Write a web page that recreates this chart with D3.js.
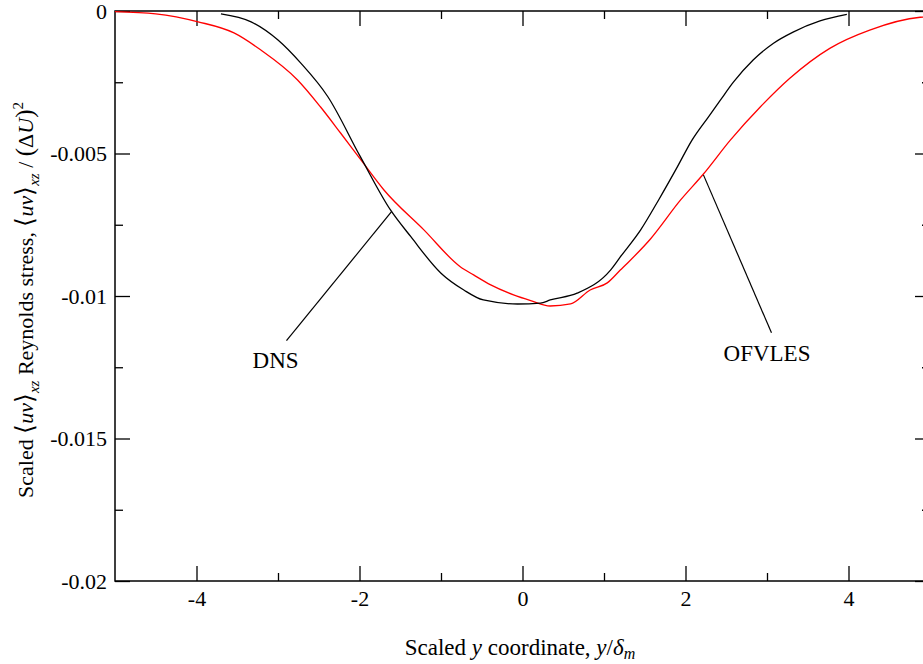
<!DOCTYPE html>
<html><head><meta charset="utf-8">
<script src="https://cdn.jsdelivr.net/npm/d3@7"></script>
<style>body{margin:0;background:#fff}svg{display:block}</style>
</head><body>
<svg id="c" width="923" height="664"></svg>
<script>
const dnsX = [-3.7,-3.33,-3.0,-2.72,-2.39,-1.99,-1.62,-1.37,-1.0,-0.72,-0.48,-0.06,0.22,0.34,0.67,1.08,1.20,1.45,1.67,1.90,2.08,2.28,2.43,2.59,2.83,3.08,3.32,3.65,3.98];
const dnsV = [-0.0001,-0.00038,-0.00102,-0.00183,-0.0030,-0.00511,-0.00698,-0.00792,-0.0092,-0.00979,-0.01014,-0.01028,-0.01025,-0.01014,-0.0099,-0.00909,-0.00863,-0.00768,-0.00663,-0.00547,-0.00453,-0.00372,-0.00312,-0.00249,-0.00172,-0.00113,-0.00074,-0.00035,-0.00012];
const lesX = [-5,-4.5,-3.98,-3.54,-3.21,-2.76,-2.48,-2.23,-1.95,-1.70,-1.21,-0.76,-0.60,-0.39,-0.11,0.10,0.34,0.59,0.83,1.04,1.20,1.29,1.57,1.94,2.22,2.55,2.92,3.28,3.77,4.26,4.88,5];
const lesV = [-0.00002,-0.0001,-0.00038,-0.00077,-0.00137,-0.00242,-0.00336,-0.00429,-0.00535,-0.00628,-0.00768,-0.00898,-0.00926,-0.00961,-0.00996,-0.01016,-0.01035,-0.01028,-0.00979,-0.00954,-0.00909,-0.00884,-0.00800,-0.00663,-0.00572,-0.00453,-0.00336,-0.00236,-0.00131,-0.00067,-0.00022,-0.0002];
const xTicks = [-4,-2,0,2,4];
const xMinor = [-3,-1,1,3];
const yTicks = [0,-0.005,-0.01,-0.015,-0.02];
const yTickLabels = ["0","-0.005","-0.01","-0.015","-0.02"];
const yMinor = [-0.0025,-0.0075,-0.0125,-0.0175];
const labels = [
  {name:"DNS", from:[-1.607,-0.00704], to:[-2.896,-0.01157], at:[-3.03,-0.01253]},
  {name:"OFVLES", from:[2.22,-0.00575], to:[3.055,-0.01129], at:[3.0,-0.01227]}
];

const FONT = "'Liberation Serif','Times New Roman',serif";
const svg = d3.select("#c").style("font-family", FONT);
const L=115, R=930, T=11, B=581;
const x = d3.scaleLinear().domain([-5,5]).range([L,R]);
const y = d3.scaleLinear().domain([0,-0.02]).range([T,B]);
const g = svg.append("g");

const axStyle = sel => {
  sel.attr("font-family", null).attr("font-size", null);
  sel.select(".domain").remove();
  sel.selectAll("line").attr("stroke","#000").attr("stroke-width",1.3);
  sel.selectAll("text").style("font-family", FONT).attr("font-size",22).attr("fill","#000");
};
// bottom axis (ticks inward)
g.append("g").attr("transform",`translate(0,${B})`).call(d3.axisBottom(x).tickValues(xTicks).tickSize(-15).tickPadding(9).tickFormat(d=>d<0?"-"+Math.abs(d):String(d)))
 .call(axStyle);
g.append("g").attr("transform",`translate(0,${B})`).call(d3.axisBottom(x).tickValues(xMinor).tickSize(-8).tickFormat(""))
 .call(axStyle);
// top axis
g.append("g").attr("transform",`translate(0,${T})`).call(d3.axisTop(x).tickValues(xTicks).tickSize(-15).tickFormat("")).call(axStyle);
g.append("g").attr("transform",`translate(0,${T})`).call(d3.axisTop(x).tickValues(xMinor).tickSize(-8).tickFormat("")).call(axStyle);
// left axis
g.append("g").attr("transform",`translate(${L},0)`).call(d3.axisLeft(y).tickValues(yTicks).tickSize(-15).tickPadding(8).tickFormat((d,i)=>yTickLabels[i]))
 .call(axStyle);
g.append("g").attr("transform",`translate(${L},0)`).call(d3.axisLeft(y).tickValues(yMinor).tickSize(-8).tickFormat("")).call(axStyle);
// right axis
g.append("g").attr("transform",`translate(${R},0)`).call(d3.axisRight(y).tickValues(yTicks).tickSize(-15).tickFormat("")).call(axStyle);
g.append("g").attr("transform",`translate(${R},0)`).call(d3.axisRight(y).tickValues(yMinor).tickSize(-8).tickFormat("")).call(axStyle);

// frame
g.append("rect").attr("x",L).attr("y",T).attr("width",R-L).attr("height",B-T).attr("fill","none").attr("stroke","#000").attr("stroke-width",1.5);

const line = d3.line().x(d=>x(d[0])).y(d=>y(d[1])).curve(d3.curveMonotoneX);
g.append("path").datum(lesX.map((v,i)=>[v,lesV[i]])).attr("d",line).attr("fill","none").attr("stroke","#ff0000").attr("stroke-width",1.3);
g.append("path").datum(dnsX.map((v,i)=>[v,dnsV[i]])).attr("d",line).attr("fill","none").attr("stroke","#000").attr("stroke-width",1.3);

labels.forEach(l=>{
  g.append("line").attr("x1",x(l.from[0])).attr("y1",y(l.from[1])).attr("x2",x(l.to[0])).attr("y2",y(l.to[1])).attr("stroke","#000").attr("stroke-width",1.2);
  g.append("text").attr("x",x(l.at[0])).attr("y",y(l.at[1])).attr("text-anchor","middle").attr("font-size",23).style("font-family",FONT).text(l.name);
});

// x title
const xt = svg.append("text").attr("x",520).attr("y",655).attr("text-anchor","middle").attr("font-size",23).style("font-family",FONT);
xt.append("tspan").text("Scaled ");
xt.append("tspan").attr("font-style","italic").text("y");
xt.append("tspan").text(" coordinate, ");
xt.append("tspan").attr("font-style","italic").text("y");
xt.append("tspan").text("/");
xt.append("tspan").attr("font-style","italic").text("δ");
xt.append("tspan").attr("font-style","italic").attr("font-size",16).attr("dy",4).text("m");

// y title
const yt = svg.append("text").attr("transform","translate(33,300) rotate(-90)").attr("text-anchor","middle").attr("font-size",22).style("font-family",FONT);
yt.append("tspan").text("Scaled ");
yt.append("tspan").attr("font-size",25).text("⟨");
yt.append("tspan").attr("font-style","italic").text("uv");
yt.append("tspan").attr("font-size",25).text("⟩");
yt.append("tspan").attr("font-style","italic").attr("font-size",15).attr("dy",6).text("xz");
yt.append("tspan").attr("dy",-6).text(" Reynolds stress, ");
yt.append("tspan").attr("font-size",25).text("⟨");
yt.append("tspan").attr("font-style","italic").text("uv");
yt.append("tspan").attr("font-size",25).text("⟩");
yt.append("tspan").attr("font-style","italic").attr("font-size",15).attr("dy",6).text("xz");
yt.append("tspan").attr("dy",-6).text("  /  ");
yt.append("tspan").attr("font-size",25).text("(");
yt.append("tspan").text("Δ");
yt.append("tspan").attr("font-style","italic").text("U");
yt.append("tspan").attr("font-size",25).text(")");
yt.append("tspan").attr("font-size",15).attr("dy",-10).text("2");
</script>
</body></html>
